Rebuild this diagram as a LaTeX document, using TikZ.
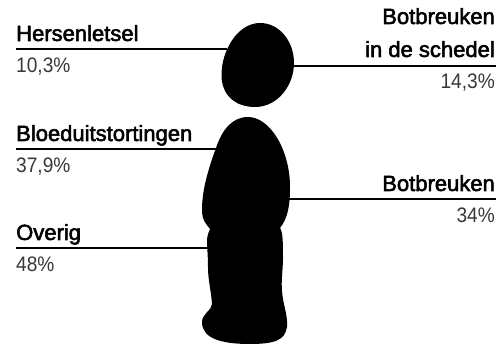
\documentclass[tikz,border=0pt]{standalone}
\usepackage{fontspec}
\setmainfont{Liberation Sans}
\newfontfamily\headfont[FakeBold=2.4]{Liberation Sans}
\newfontfamily\pctfont[FakeStretch=0.91]{Liberation Sans}
\begin{document}
\begin{tikzpicture}[x=1pt,y=-1pt,
  heading/.style={font=\headfont\fontsize{22}{24}\selectfont,text=black,inner sep=0pt,anchor=base west},
  headingr/.style={heading,anchor=base east},
  pct/.style={font=\pctfont\fontsize{21}{24}\selectfont,text=black!78,inner sep=0pt,anchor=base west},
  pctr/.style={pct,anchor=base east},
  leader/.style={draw=black,line width=2.7pt},
  blob/.style={fill=black,draw=none}]
\useasboundingbox (0,0) rectangle (496,344);
% figure
\fill[blob] (260,23) .. controls (280,23) and (294,42) .. (294,63)
  .. controls (294,85) and (278,107) .. (255,107)
  .. controls (235,107) and (221.5,95) .. (221.5,75)
  .. controls (221.5,50) and (238,23) .. (260,23) -- cycle;
\fill[blob] (248,117) .. controls (270,117) and (290,150) .. (290,187)
  .. controls (290,205) and (288,218) .. (280,228)
  .. controls (283,232) and (283,245) .. (283,257)
  .. controls (283,270) and (281,280) .. (282,291)
  .. controls (283,305) and (288,315) .. (287,327)
  .. controls (285,340) and (275,344) .. (250,344)
  .. controls (220,344) and (202,338) .. (202,322)
  .. controls (202,314) and (212,310) .. (212,304)
  .. controls (211,290) and (208,280) .. (208,267)
  .. controls (208,255) and (207,248) .. (207,241)
  .. controls (207,235) and (209,232) .. (210,229)
  .. controls (206,224) and (202,220) .. (202,210)
  .. controls (202,190) and (208,170) .. (216,148)
  .. controls (222,130) and (232,117) .. (248,117) -- cycle;
% labels
\node[heading] (h1) at (16,41) {Hersenletsel};
\node[pct] (p1) at (16,73) {10,3\%};
\node[headingr] (h2a) at (495,24) {Botbreuken};
\node[headingr] (h2b) at (495,57) {in de schedel};
\node[pctr] (p2) at (495,89) {14,3\%};
\node[heading] (h3) at (16,141) {Bloeduitstortingen};
\node[pct] (p3) at (16,173) {37,9\%};
\node[headingr] (h4) at (495,191) {Botbreuken};
\node[pctr] (p4) at (495,223) {34\%};
\node[heading] (h5) at (16,240) {Overig};
\node[pct] (p5) at (16,272) {48\%};
% leaders
\coordinate (a1) at (16,49); \coordinate (b1) at (227,49);
\coordinate (a2) at (496,66); \coordinate (b2) at (293,66);
\coordinate (a3) at (16,149); \coordinate (b3) at (217,149);
\coordinate (a4) at (496,199); \coordinate (b4) at (289,199);
\coordinate (a5) at (16,248); \coordinate (b5) at (208,248);
\draw[leader] (a1) -- (b1);
\draw[leader] (a2) -- (b2);
\draw[leader] (a3) -- (b3);
\draw[leader] (a4) -- (b4);
\draw[leader] (a5) -- (b5);
\end{tikzpicture}
\end{document}
